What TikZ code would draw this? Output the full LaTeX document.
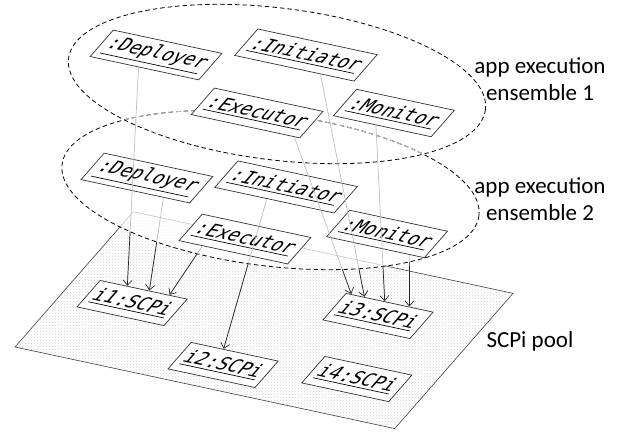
\documentclass[tikz,border=0pt]{standalone}
\usepackage{fontspec}
\setmainfont{Carlito}
\newfontfamily\objfont{DejaVu Sans Mono}
\usetikzlibrary{arrows.meta,calc,patterns}

\begin{document}
\begin{tikzpicture}[
    x=1pt, y=-1pt,
    >={Straight Barb[length=5pt,width=9pt]},
    plane/.style={
        shift={(15,#1)},
        cm={1.63,-0.35,1.285,1.47,(0,0)},
        x=1pt, y=1pt
    },
    obj/.style={
        draw=black!80,
        line width=0.7pt,
        fill=white,
        transform shape,
        font=\objfont\fontsize{11}{12}\selectfont,
        minimum height=18pt,
        inner xsep=3.5pt,
        inner ysep=1.5pt
    },
    ensemble/.style={
        x radius=210,
        y radius=76,
        rotate=-7
    },
    frame/.style={
        dash pattern=on 4.5pt off 3pt,
        line width=0.8pt
    },
    link/.style={
        line width=0.7pt
    },
    caption/.style={
        font=\fontsize{23}{27}\selectfont,
        align=center
    }
]
\useasboundingbox (0,0) rectangle (626,432);

% SCPi pool
\begin{scope}[plane=347]
\fill[pattern=crosshatch dots, pattern color=black!16] (0,0) rectangle (233,92);
\draw[black!75, line width=0.6pt] (0,0) rectangle (233,92);
\end{scope}

% Ensembles
\coordinate (c1) at (277,84);
\coordinate (c2) at (270.5,190);

\fill[white, opacity=0.7] (c2) circle [ensemble];
\draw[frame] (c2) circle [ensemble];
\begin{scope}
\clip (c1) circle [ensemble];
\draw[frame, black!25] (c2) circle [ensemble];
\end{scope}
\draw[frame] (c1) circle [ensemble];

% Pool members
\begin{scope}[plane=347]
\node[obj] (i1) at (40.6,39.6) {\underline{i1:SCPi}};
\node[obj] (i2) at (115.6,15.3) {\underline{i2:SCPi}};
\node[obj] (i3) at (173.5,62.4) {\underline{i3:SCPi}};
\node[obj] (i4) at (191,23.7) {\underline{i4:SCPi}};
\end{scope}

% Ensemble 2
\begin{scope}[plane=237]
\node[obj] (dep2) at (41.5,50) {\underline{:Deployer}};
\node[obj] (ini2) at (117.4,62) {\underline{:Initiator}};
\node[obj] (exe2) at (119.7,27.1) {\underline{:Executor}};
\node[obj] (mon2) at (190.8,47.5) {\underline{:Monitor}};
\end{scope}

% Ensemble 1
\begin{scope}[plane=131]
\node[obj] (dep1) at (38.5,60.9) {\underline{:Deployer}};
\node[obj] (ini1) at (116,79.3) {\underline{:Initiator}};
\node[obj] (exe1) at (116.9,40.1) {\underline{:Executor}};
\node[obj] (mon1) at (187.6,56.9) {\underline{:Monitor}};
\end{scope}

% Deployment links
\foreach \src/\f/\dst/\g in {dep1/0.45/i1/0.31, dep2/0.76/i1/0.56, exe2/0.22/i1/0.79,
    ini2/0.44/i2/0.37, exe1/0.95/i3/0.06, ini1/0.72/i3/0.21,
    mon1/0.44/i3/0.44, mon2/0.85/i3/0.72} {
  \draw[link, black!25] ($(\src.south west)!\f!(\src.south east)$)
    -- ($(\dst.north west)!\g!(\dst.north east)$);
}
\begin{scope}[even odd rule]
\clip (0,0) rectangle (626,432) (c2) circle [ensemble];
\clip (0,0) rectangle (626,432) (c1) circle [ensemble];
\foreach \src/\f/\dst/\g in {dep1/0.45/i1/0.31, dep2/0.76/i1/0.56, exe2/0.22/i1/0.79,
    ini2/0.44/i2/0.37, exe1/0.95/i3/0.06, ini1/0.72/i3/0.21,
    mon1/0.44/i3/0.44, mon2/0.85/i3/0.72} {
  \draw[link, ->, black!85] ($(\src.south west)!\f!(\src.south east)$)
    -- ($(\dst.north west)!\g!(\dst.north east)$);
}
\end{scope}

% Labels
\node[caption] (lab1) at (540,79) {app execution\\ensemble 1};
\node[caption] (lab2) at (540,199) {app execution\\ensemble 2};
\node[caption, anchor=base west] (lab3) at (483,347) {SCPi pool};

\end{tikzpicture}
\end{document}
